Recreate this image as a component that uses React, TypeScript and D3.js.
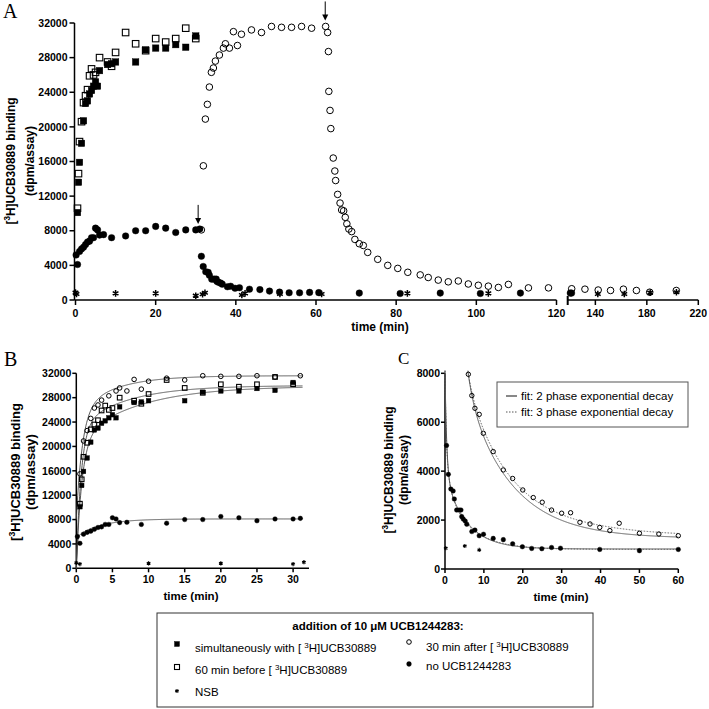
import React from 'react';
import * as d3 from 'd3';

// ---------- Panel A / B data (time in min, binding in dpm/assay) ----------
// filled squares: simultaneously with [3H]UCB30889
const simTime = [0.5, 0.75, 1, 1.5, 2, 2.5, 3, 3.5, 4, 4.5, 5, 5.5, 6, 8, 9, 10, 15, 17.5, 20, 22.5, 25, 27.5, 30];
const simBound = [10100, 13600, 15900, 18100, 20700, 22700, 23000, 23800, 24200, 24700, 25200, 24700, 26500, 27200, 27300, 27500, 27500, 28900, 29100, 29100, 29500, 29200, 30500];

// open squares: 60 min before [3H]UCB30889
const preTime = [0.5, 0.75, 1, 1.5, 2, 2.5, 3, 3.5, 4, 4.5, 5, 6, 8, 9, 10, 12.5, 15, 17.5, 20, 22.5, 25, 27.5, 30];
const preBound = [10600, 14600, 18300, 20600, 22800, 23600, 24300, 25900, 26700, 26000, 26300, 28000, 27500, 27000, 28600, 30900, 29600, 28800, 30200, 29800, 30200, 31400, 30200];

// open circles: 30 min after [3H]UCB30889 (time since addition)
const afterAddTime = 31.4;
const afterAssocTime = [0, 0.5, 1, 1.5, 2, 2.5, 3, 3.5, 4.5, 5.5, 6, 7, 8, 9, 10, 12.5, 15, 17.5, 20, 22.5, 25, 27.5, 31];
const afterAssocBound = [8100, 15500, 20900, 22600, 24600, 26300, 26800, 27600, 28300, 29100, 29600, 29100, 31000, 29400, 30700, 31200, 30900, 31600, 31500, 31500, 31600, 31400, 31600];
// open circles after second arrow (panel A time)
const afterDissTime = [62.9, 63.1, 63.2, 63.5, 63.7, 64.3, 64.7, 64.9, 65.4, 66.0, 66.4, 66.9, 67.3, 67.7, 68.2, 68.9, 69.7, 70.8, 71.8, 72.9, 75.4, 77.9, 80.4, 82.9, 86.0, 88.0, 90.5, 93.0, 95.5, 98.0, 100.5, 103, 105.5, 108, 113, 118, 121.6, 131.9, 142.2, 151.8, 161.8, 171.9, 182.2, 202.9];
const afterDissBound = [30900, 28700, 24100, 21900, 19800, 16400, 14900, 13800, 12200, 11200, 10400, 10300, 9550, 8800, 8200, 7900, 7000, 6500, 6300, 5500, 4700, 4000, 3650, 3200, 2900, 2600, 2300, 2100, 2200, 1850, 1700, 1600, 1450, 1800, 1400, 1400, 1300, 1250, 1150, 1100, 1250, 1100, 900, 1100];

// filled circles: no UCB1244283
const noModTime = [0.15, 0.5, 1, 1.5, 2, 2.5, 3, 3.5, 4, 4.5, 5, 5.5, 6, 7, 9, 12.5, 15, 17.5, 20, 22.5, 25, 27.5, 30, 31];
const noModBound = [5200, 4100, 5600, 5900, 6100, 6400, 6700, 6800, 7200, 7200, 8300, 8100, 7500, 7550, 7200, 7400, 8000, 8000, 8500, 8300, 7800, 8100, 8100, 8200];
// filled circles after first arrow (time since addition, panel C)
const noModAddTime = 31;
const noModDissTime = [0.4, 0.86, 1.5, 2.1, 2.4, 3.0, 3.6, 4.1, 4.3, 4.7, 5.2, 5.6, 6.9, 7.7, 8.8, 9.9, 12.4, 15, 17.4, 19.9, 22.3, 24.9, 27.4, 29.7, 39.8, 50, 60];
const noModDissBound = [5050, 3870, 3270, 3190, 2860, 2410, 2410, 2410, 2140, 2040, 1960, 1830, 1530, 1590, 1360, 1420, 1250, 1200, 1030, 910, 840, 830, 880, 850, 800, 750, 800];
const noModLateTime = [101, 111, 120.5, 121.5];
const noModLateBound = [750, 800, 800, 800];

// NSB
const nsbTimeA = [0, 0.25, 10, 20, 30, 31.7, 32.3, 41.5, 42.3, 51, 61.4, 82.8, 103, 141.9, 162.5, 182.6, 203];
const nsbBoundA = [850, 700, 770, 770, 500, 660, 840, 580, 770, 690, 690, 770, 770, 690, 690, 850, 900];
const nsbTimeB = [0, 0.5, 10, 20, 30, 31.5];
const nsbBoundB = [900, 700, 800, 800, 700, 1000];
const nsbTimeC = [0.2, 5.1, 8.8];
const nsbBoundC = [850, 940, 780];

// Panel C open circles (time since addition)
const cAfterTime = [6, 6.9, 7.7, 8.8, 9.85, 12.4, 15, 17.4, 20, 22.7, 25, 27.4, 30, 32.3, 34.7, 37.3, 39.8, 42.4, 44.8, 50, 55, 60];
const cAfterBound = [7960, 7090, 6570, 6320, 5550, 4800, 4050, 3700, 3230, 2920, 2730, 2410, 2280, 2300, 1910, 1840, 1700, 1570, 1870, 1460, 1430, 1360];

// Fit parameters: association [y0, a1, k1, a2, k2]
const bFitSim = [0, 21000, 1.3, 8900, 0.12];
const bFitPre = [0, 23000, 1.5, 7000, 0.15];
const bFitAfter = [8000, 17500, 1.2, 6100, 0.2];
const bFitNoMod = [0, 5200, 8, 2900, 0.3];
// decay fits: plateau, amplitudes, rates, start time
const cFit2NoModAmp = [4300, 3000]; const cFit2NoModK = [2.2, 0.18]; const cFit2NoModP = 820;
const cFit3NoModAmp = [3500, 1500, 2300]; const cFit3NoModK = [3, 0.6, 0.15]; const cFit3NoModP = 800;
const cFit2AfterAmp = [1000, 5700]; const cFit2AfterK = [0.6, 0.085]; const cFit2AfterP = 1250;
const cFit3AfterAmp = [500, 4100, 2100]; const cFit3AfterK = [1, 0.11, 0.05]; const cFit3AfterP = 1300;
const cAfterStart = 6;

// ticks
const yTicks32 = [0, 4000, 8000, 12000, 16000, 20000, 24000, 28000, 32000];
const aXTicks1 = [0, 20, 40, 60, 80, 100, 120];
const aXTicks2 = [140, 180, 220];
const bXTicks = [0, 5, 10, 15, 20, 25, 30];
const cXTicks = [0, 10, 20, 30, 40, 50, 60];
const cYTicks = [0, 2000, 4000, 6000, 8000];

const FONT = "'Liberation Sans', Arial, Helvetica, sans-serif";
const SERIF = "'Liberation Serif', 'Times New Roman', Times, serif";

// scales
const xA1 = d3.scaleLinear().domain([0, 120]).range([75.5, 556.5]);
const xA2 = d3.scaleLinear().domain([118.5, 220]).range([567.7, 698.3]);
const xA = (t: number) => (t > 120 ? xA2(t) : xA1(t));
const yA = d3.scaleLinear().domain([0, 32000]).range([300, 23]);
const xB = d3.scaleLinear().domain([0, 32.2]).range([76.3, 309]);
const yB = d3.scaleLinear().domain([0, 32000]).range([568.3, 373.3]);
const xC = d3.scaleLinear().domain([0, 60]).range([445, 678.3]);
const yC = d3.scaleLinear().domain([0, 8000]).range([569, 373.3]);

const astType: any = (d3 as any).symbolAsterisk || d3.symbolCross;

function Sq({ x, y, s, filled }: any) {
  return <rect x={x - s / 2} y={y - s / 2} width={s} height={s} fill={filled ? '#000' : 'none'} stroke="#000" strokeWidth={filled ? 0.4 : 1.1} />;
}
function Dot({ x, y, r, filled }: any) {
  return <circle cx={x} cy={y} r={r} fill={filled ? '#000' : 'none'} stroke="#000" strokeWidth={filled ? 0.4 : 1} />;
}
function Star({ x, y, size, sw }: any) {
  const p = d3.symbol(astType, size)() as string;
  return <path d={p} transform={`translate(${x},${y})`} fill="none" stroke="#000" strokeWidth={sw} />;
}

function YTitle({ x, gap, cy, fs }: any) {
  return (
    <g fontFamily={FONT} fontWeight="bold" fontSize={fs} textAnchor="middle" fill="#000">
      <text transform={`translate(${x},${cy}) rotate(-90)`}>
        [<tspan dy={-fs * 0.38} fontSize={fs * 0.68}>3</tspan>
        <tspan dy={fs * 0.38}>H]UCB30889 binding</tspan>
      </text>
      <text transform={`translate(${x + gap},${cy}) rotate(-90)`}>(dpm/assay)</text>
    </g>
  );
}

function assoc(p: number[]) {
  return (t: number) => p[0] + p[1] * (1 - Math.exp(-p[2] * t)) + p[3] * (1 - Math.exp(-p[4] * t));
}
function decay(pl: number, amp: number[], ks: number[], t0: number) {
  return (t: number) => pl + amp.reduce((s, a, i) => s + a * Math.exp(-ks[i] * (t - t0)), 0);
}

function LegendLabel({ x, y, pre, post }: any) {
  return (
    <text x={x} y={y} fontSize={11.5} fontFamily={FONT}>
      {pre}[ <tspan dy={-4.5} fontSize={8}>3</tspan>
      <tspan dy={4.5}>{post}</tspan>
    </text>
  );
}

export default function App() {
  const tB = d3.range(0, 31.31, 0.05);
  const bPath = (f: (t: number) => number) => d3.line<number>().x((t) => xB(t)).y((t) => yB(f(t)))(tB) as string;
  const tC0 = d3.range(0, 60.01, 0.05);
  const tC6 = d3.range(cAfterStart - 0.1, 60.01, 0.05);
  const cPath = (f: (t: number) => number, ts: number[]) => d3.line<number>().x((t) => xC(t)).y((t) => yC(f(t)))(ts) as string;

  const axisW = 1.5;

  return (
    <svg width={709} height={709} style={{ position: 'absolute', left: 0, top: 0, background: '#fff' }} fontFamily={FONT}>
      <rect width={709} height={709} fill="#fff" />

      {/* ================= Panel A ================= */}
      <text x={3} y={18} fontFamily={SERIF} fontSize={20}>A</text>
      <YTitle x={15} gap={19} cy={161} fs={12} />
      <line x1={74.5} x2={74.5} y1={yA(32000)} y2={yA(0)} stroke="#000" strokeWidth={axisW} />
      {yTicks32.map((v) => (
        <g key={'ay' + v}>
          <line x1={69.5} x2={74.5} y1={yA(v)} y2={yA(v)} stroke="#000" strokeWidth={axisW} />
          <text x={67.5} y={yA(v) + 3.7} textAnchor="end" fontWeight="bold" fontSize={10.5}>{v}</text>
        </g>
      ))}
      <line x1={74.5} x2={xA1(120)} y1={yA(0)} y2={yA(0)} stroke="#000" strokeWidth={axisW} />
      {aXTicks1.map((t) => (
        <g key={'ax' + t}>
          <line x1={xA1(t)} x2={xA1(t)} y1={yA(0)} y2={yA(0) + 5} stroke="#000" strokeWidth={axisW} />
          <text x={xA1(t)} y={yA(0) + 17} textAnchor="middle" fontWeight="bold" fontSize={10.5}>{t}</text>
        </g>
      ))}
      <line x1={xA2(118.5)} x2={xA2(220)} y1={yA(0)} y2={yA(0)} stroke="#000" strokeWidth={axisW} />
      <line x1={xA2(118.5)} x2={xA2(118.5)} y1={yA(0) - 4} y2={yA(0) + 5} stroke="#000" strokeWidth={2} />
      {aXTicks2.map((t) => (
        <g key={'ax2' + t}>
          <line x1={xA2(t)} x2={xA2(t)} y1={yA(0)} y2={yA(0) + 5} stroke="#000" strokeWidth={axisW} />
          <text x={xA2(t)} y={yA(0) + 17} textAnchor="middle" fontWeight="bold" fontSize={10.5}>{t}</text>
        </g>
      ))}
      <text x={380} y={331} textAnchor="middle" fontWeight="bold" fontSize={12}>time (min)</text>

      {preTime.map((t, i) => <Sq key={'aps' + i} x={xA(t)} y={yA(preBound[i])} s={6.5} filled={false} />)}
      {simTime.map((t, i) => <Sq key={'ass' + i} x={xA(t)} y={yA(simBound[i])} s={6.5} filled />)}
      {afterAssocTime.map((t, i) => <Dot key={'aoa' + i} x={xA(t + afterAddTime)} y={yA(afterAssocBound[i])} r={3.3} filled={false} />)}
      {afterDissTime.map((t, i) => <Dot key={'aod' + i} x={xA(t)} y={yA(afterDissBound[i])} r={3.3} filled={false} />)}
      {noModTime.map((t, i) => <Dot key={'anm' + i} x={xA(t)} y={yA(noModBound[i])} r={3.3} filled />)}
      {noModDissTime.map((t, i) => <Dot key={'and' + i} x={xA(t + noModAddTime)} y={yA(noModDissBound[i])} r={3.3} filled />)}
      {noModLateTime.map((t, i) => <Dot key={'anl' + i} x={xA(t)} y={yA(noModLateBound[i])} r={3.3} filled />)}
      {nsbTimeA.map((t, i) => <Star key={'ans' + i} x={xA(t)} y={yA(nsbBoundA[i])} size={30} sw={1.5} />)}

      {[{ t: 30.6, v: 8100 }, { t: 62.3, v: 31600 }].map((a, i) => {
        const x = xA(a.t);
        const yTip = yA(a.v) - 6;
        return (
          <g key={'arr' + i}>
            <line x1={x} x2={x} y1={yTip - 19} y2={yTip - 4} stroke="#000" strokeWidth={1} />
            <path d={`M${x - 3},${yTip - 6} L${x + 3},${yTip - 6} L${x},${yTip} Z`} fill="#000" />
          </g>
        );
      })}

      {/* ================= Panel B ================= */}
      <text x={4} y={366} fontFamily={SERIF} fontSize={20}>B</text>
      <YTitle x={20} gap={15} cy={472} fs={13} />
      <line x1={xB(0)} x2={xB(0)} y1={yB(32000)} y2={yB(0)} stroke="#000" strokeWidth={axisW} />
      {yTicks32.map((v) => (
        <g key={'by' + v}>
          <line x1={xB(0) - 4} x2={xB(0)} y1={yB(v)} y2={yB(v)} stroke="#000" strokeWidth={axisW} />
          <text x={xB(0) - 5} y={yB(v) + 3.7} textAnchor="end" fontWeight="bold" fontSize={10.5}>{v}</text>
        </g>
      ))}
      <line x1={xB(0)} x2={xB(32.2)} y1={yB(0)} y2={yB(0)} stroke="#000" strokeWidth={axisW} />
      {bXTicks.map((t) => (
        <g key={'bx' + t}>
          <line x1={xB(t)} x2={xB(t)} y1={yB(0)} y2={yB(0) + 4} stroke="#000" strokeWidth={axisW} />
          <text x={xB(t)} y={yB(0) + 14.5} textAnchor="middle" fontWeight="bold" fontSize={10.5}>{t}</text>
        </g>
      ))}
      <text x={191} y={600} textAnchor="middle" fontWeight="bold" fontSize={11.5}>time (min)</text>
      <g fill="none" stroke="#444" strokeWidth={0.9}>
        <path d={bPath(assoc(bFitSim))} />
        <path d={bPath(assoc(bFitPre))} />
        <path d={bPath(assoc(bFitAfter))} />
        <path d={bPath(assoc(bFitNoMod))} />
      </g>
      {preTime.map((t, i) => <Sq key={'bps' + i} x={xB(t)} y={yB(preBound[i])} s={4.6} filled={false} />)}
      {simTime.map((t, i) => <Sq key={'bss' + i} x={xB(t)} y={yB(simBound[i])} s={4.6} filled />)}
      {afterAssocTime.map((t, i) => (t > 0 ? <Dot key={'boa' + i} x={xB(t)} y={yB(afterAssocBound[i])} r={2.3} filled={false} /> : null))}
      {noModTime.map((t, i) => <Dot key={'bnm' + i} x={xB(t)} y={yB(noModBound[i])} r={2.3} filled />)}
      {nsbTimeB.map((t, i) => <Star key={'bns' + i} x={xB(t)} y={yB(nsbBoundB[i])} size={12} sw={1.2} />)}

      {/* ================= Panel C ================= */}
      <text x={398} y={364} fontFamily={SERIF} fontSize={17}>C</text>
      <YTitle x={393} gap={15} cy={470} fs={12} />
      <line x1={xC(0)} x2={xC(0)} y1={yC(8000)} y2={yC(0)} stroke="#000" strokeWidth={axisW} />
      {cYTicks.map((v) => (
        <g key={'cy' + v}>
          <line x1={xC(0) - 4} x2={xC(0)} y1={yC(v)} y2={yC(v)} stroke="#000" strokeWidth={axisW} />
          <text x={xC(0) - 5} y={yC(v) + 3.7} textAnchor="end" fontWeight="bold" fontSize={10.5}>{v}</text>
        </g>
      ))}
      <line x1={xC(0)} x2={xC(60)} y1={yC(0)} y2={yC(0)} stroke="#000" strokeWidth={axisW} />
      {cXTicks.map((t) => (
        <g key={'cx' + t}>
          <line x1={xC(t)} x2={xC(t)} y1={yC(0)} y2={yC(0) + 4} stroke="#000" strokeWidth={axisW} />
          <text x={xC(t)} y={yC(0) + 14.5} textAnchor="middle" fontWeight="bold" fontSize={10.5}>{t}</text>
        </g>
      ))}
      <text x={561} y={601} textAnchor="middle" fontWeight="bold" fontSize={11.5}>time (min)</text>
      <g fill="none" stroke="#555" strokeWidth={1}>
        <path d={cPath(decay(cFit2NoModP, cFit2NoModAmp, cFit2NoModK, 0), tC0)} />
        <path d={cPath(decay(cFit3NoModP, cFit3NoModAmp, cFit3NoModK, 0), tC0)} strokeDasharray="1.5,1.5" />
        <path d={cPath(decay(cFit2AfterP, cFit2AfterAmp, cFit2AfterK, cAfterStart), tC6)} />
        <path d={cPath(decay(cFit3AfterP, cFit3AfterAmp, cFit3AfterK, cAfterStart), tC6)} strokeDasharray="1.5,1.5" />
      </g>
      {cAfterTime.map((t, i) => <Dot key={'coa' + i} x={xC(t)} y={yC(cAfterBound[i])} r={2.2} filled={false} />)}
      {noModDissTime.map((t, i) => <Dot key={'cnm' + i} x={xC(t)} y={yC(noModDissBound[i])} r={2.3} filled />)}
      {nsbTimeC.map((t, i) => <Star key={'cns' + i} x={xC(t)} y={yC(nsbBoundC[i])} size={12} sw={1.1} />)}
      <rect x={497} y={382} width={191} height={45} fill="#fff" stroke="#555" strokeWidth={1} />
      <line x1={506} x2={517} y1={396} y2={396} stroke="#888" strokeWidth={2} />
      <line x1={506} x2={517} y1={412} y2={412} stroke="#555" strokeWidth={1} strokeDasharray="1.5,1.5" />
      <text x={521} y={400} fontSize={11.5}>fit: 2 phase exponential decay</text>
      <text x={521} y={416} fontSize={11.5}>fit: 3 phase exponential decay</text>

      {/* ================= Main legend ================= */}
      <rect x={157} y={613} width={436} height={94} fill="#fff" stroke="#333" strokeWidth={1} />
      <text x={378} y={630} textAnchor="middle" fontWeight="bold" fontSize={11.5}>addition of 10 μM UCB1244283:</text>
      <Sq x={177} y={644} s={5} filled />
      <LegendLabel x={195} y={652} pre="simultaneously with " post="H]UCB30889" />
      <Sq x={177} y={667} s={5} filled={false} />
      <LegendLabel x={195} y={674} pre="60 min before " post="H]UCB30889" />
      <Star x={177} y={691} size={12} sw={1.1} />
      <text x={195} y={696} fontSize={11.5}>NSB</text>
      <Dot x={409} y={642} r={2.3} filled={false} />
      <LegendLabel x={426} y={651} pre="30 min after " post="H]UCB30889" />
      <Dot x={409} y={664} r={2.4} filled />
      <text x={426} y={670} fontSize={11.5}>no UCB1244283</text>
    </svg>
  );
}
